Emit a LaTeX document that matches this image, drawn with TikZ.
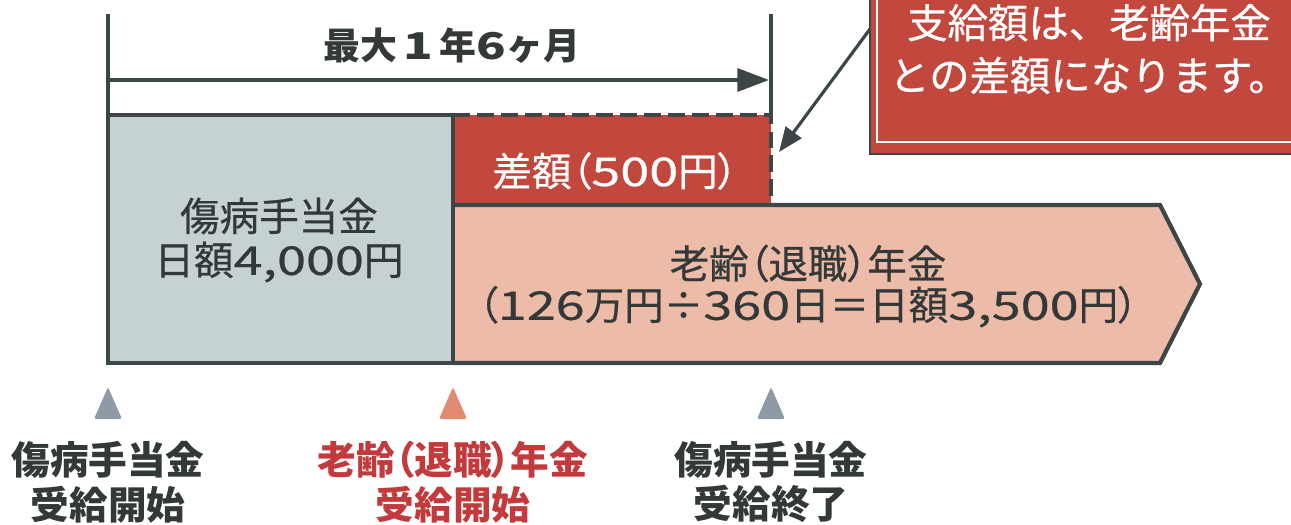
\documentclass[tikz,border=0pt]{standalone}
\usepackage{fontspec}
\setmainfont{Noto Sans CJK JP}
\newfontfamily\medfont{Noto Sans CJK JP}[FakeBold=0.5]
\usepackage{graphicx}
\usetikzlibrary{arrows.meta,positioning}
\usepackage{xcolor}

\definecolor{lineGray}{HTML}{3C4646}
\definecolor{textDark}{HTML}{333838}
\definecolor{sickFill}{HTML}{C6D1D4}
\definecolor{diffRed}{HTML}{C2473C}
\definecolor{pensionFill}{HTML}{EDBCA8}
\definecolor{triGray}{HTML}{8E9AA5}
\definecolor{triSalmon}{HTML}{E28B72}
\definecolor{labelRed}{HTML}{C23A3C}

% wide digits and tight brackets
\newcommand{\wnum}[1]{\scalebox{1.32}[1]{#1}}
\newcommand{\tight}{\addfontfeature{RawFeature=+palt}}

\begin{document}
\begin{tikzpicture}[
        x=0.02cm, y=-0.02cm,
        outline/.style={draw=lineGray, line width=2.4pt},
        guide/.style={draw=lineGray, line width=1.8pt},
        dashedge/.style={draw=lineGray, line width=2.4pt, dash pattern=on 9.6pt off 4pt},
        arrow/.style={-{Triangle[length=18pt, width=13pt]}, draw=lineGray, line width=2.2pt},
        pointer/.style={-{Triangle[length=14pt, width=11pt]}, draw=lineGray, line width=1.8pt},
        boxtext/.style={font=\medfont\fontsize{22.5}{25}\selectfont, align=center, text=textDark},
        eventtext/.style={font=\bfseries\fontsize{22}{25.5}\selectfont, align=center, text=textDark},
    ]
        \clip (0,0) rectangle (1291,524);

        % Period
        \coordinate (startTop) at (108,14);
        \coordinate (endTop) at (771,14);
        \coordinate (startArrow) at (108,80);
        \coordinate (endArrow) at (769,80);
        \draw[guide] (startTop) -- (108,115);
        \draw[guide] (endTop) -- (771,115);
        \draw[arrow] (startArrow) -- (endArrow);
        \node[font=\bfseries\fontsize{21}{24}\selectfont, text=textDark] (period) at (452,46) {最大\,\wnum{1}\,年\wnum{6}ヶ月};

        % Blocks
        \fill[sickFill] (108,115) rectangle (453,363);
        \fill[diffRed] (453,115) rectangle (771,205);
        \fill[pensionFill] (453,205) -- (1160,205) -- (1200,284) -- (1160,363) -- (453,363) -- cycle;
        \draw[outline] (108,115) rectangle (453,363);
        \draw[outline, line join=miter] (453,205) -- (1160,205) -- (1200,284) -- (1160,363) -- (453,363);
        \draw[dashedge] (453,115) -- (771,115) -- (771,205);

        \node[boxtext] (sickText) at (279,240) {傷病手当金\\日額\wnum{4,000}円};
        \node[boxtext, text=white] (diffText) at (615,171) {\tight 差額（\wnum{500}円）};
        \node[boxtext, font=\medfont\fontsize{22.5}{23.5}\selectfont] (pensionText) at (808,286)
            {\tight 老齢（退職）年金\\\tight （\wnum{126}万円÷\wnum{360}日＝日額\wnum{3,500}円）};

        % Callout
        \fill[diffRed] (870,-20) rectangle (1320,154);
        \draw[draw=lineGray, line width=1.6pt] (870,-20) rectangle (1320,154);
        \draw[white, line width=1.2pt] (877,-20) rectangle (1313,142);
        \node[font=\medfont\fontsize{23}{30}\selectfont, text=white, align=center] (note) at (1089,49) {支給額は、老齢年金\\との差額になります。};
        \coordinate (noteCorner) at (870,29);
        \coordinate (diffEdge) at (779,152);
        \draw[pointer] (noteCorner) -- (diffEdge);

        % Markers
        \fill[triGray, rounded corners=1pt] (108,387) -- (122,419) -- (94,419) -- cycle;
        \fill[triSalmon, rounded corners=1pt] (453,387) -- (467,419) -- (439,419) -- cycle;
        \fill[triGray, rounded corners=1pt] (771,387) -- (785,419) -- (757,419) -- cycle;

        % Events
        \node[eventtext] (sickStart) at (108,482) {傷病手当金\\受給開始};
        \node[eventtext, text=labelRed] (pensionStart) at (453,482) {\tight 老齢（退職）年金\\受給開始};
        \node[eventtext] (sickEnd) at (771,482) {傷病手当金\\受給終了};

    \end{tikzpicture}
\end{document}
